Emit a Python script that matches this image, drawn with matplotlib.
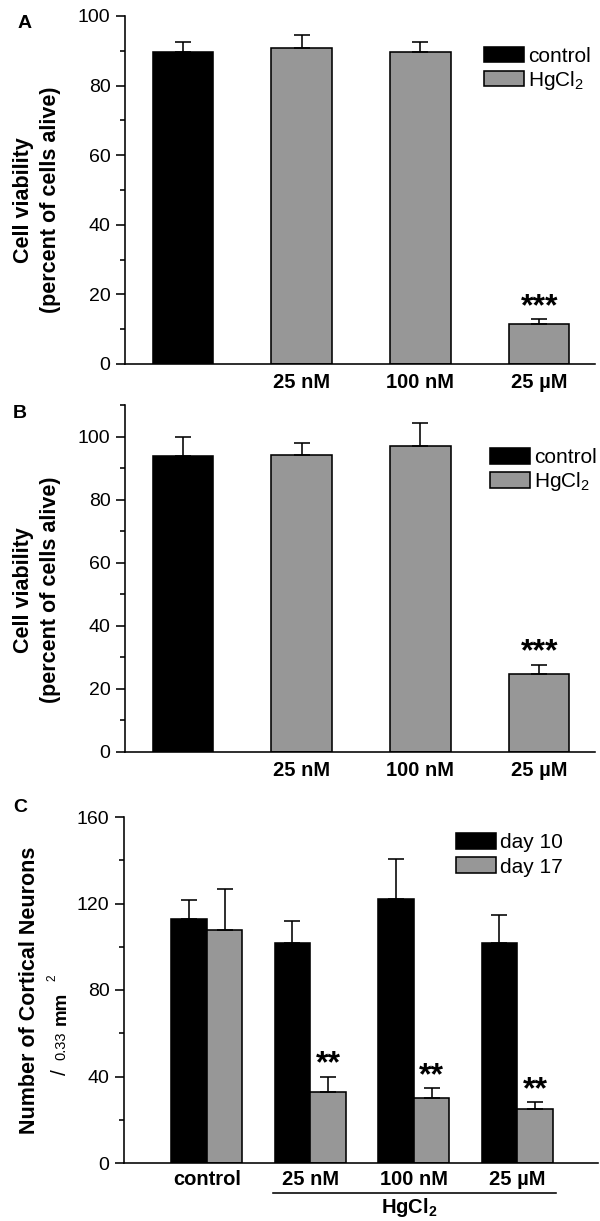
import matplotlib
matplotlib.use("Agg")
import matplotlib.pyplot as plt
import matplotlib.transforms as mtransforms
from matplotlib.patches import Patch
from matplotlib.ticker import MultipleLocator
import numpy as np

plt.rcParams['font.family'] = ['Liberation Sans', 'DejaVu Sans']
plt.rcParams['mathtext.default'] = 'regular'

# ---------------- data ----------------
conc_labels = ['25 nM', '100 nM', '25 µM']
groups_AB = ['control'] + conc_labels
tick_labels_AB = [''] + conc_labels

A_vals = [89.7, 90.7, 89.6, 11.5]
A_err = [2.8, 3.8, 3.0, 1.4]
A_stars = ['', '', '', '***']

B_vals = [93.9, 94.1, 96.9, 24.7]
B_err = [5.8, 3.9, 7.3, 2.9]
B_stars = ['', '', '', '***']

groups_C = ['control'] + conc_labels
C_day10 = [112.8, 101.9, 122.2, 101.6]
C_day10_err = [8.7, 10.0, 18.5, 13.1]
C_day17 = [107.9, 33.0, 29.9, 24.8]
C_day17_err = [18.7, 6.9, 4.6, 3.3]
C_stars = ['', '**', '**', '**']

legend_AB = ['control', 'HgCl$_2$']
legend_C = ['day 10', 'day 17']

GRAY = '#979797'
W, H = 600, 1221
TICK_FS = 14
XLAB_FS = 14.5
LEG_FS = 15

fig = plt.figure(figsize=(W / 100, H / 100), dpi=100)


def ax_px(left, top, right, bottom):
    return fig.add_axes([left / W, 1 - bottom / H, (right - left) / W, (bottom - top) / H])


def style_axes(ax, ymax, major, minor):
    ax.set_ylim(0, ymax)
    ax.yaxis.set_major_locator(MultipleLocator(major))
    ax.yaxis.set_minor_locator(MultipleLocator(minor))
    for s in ['top', 'right']:
        ax.spines[s].set_visible(False)
    for s in ['left', 'bottom']:
        ax.spines[s].set_linewidth(1.15)
    ax.tick_params(axis='y', which='major', length=6.5, width=1.15, labelsize=TICK_FS, pad=4)
    ax.tick_params(axis='y', which='minor', length=3.6, width=1.15)
    ax.tick_params(axis='x', length=0, pad=6.5)
    ax.patch.set_alpha(0)


def viability_panel(ax, vals, errs, stars, ymax):
    x = np.arange(1, len(vals) + 1)
    colors = ['black'] + [GRAY] * (len(vals) - 1)
    ax.bar(x, vals, width=0.51, color=colors, edgecolor='black', linewidth=1.15, zorder=2)
    ax.errorbar(x, vals, yerr=[np.zeros(len(vals)), errs], fmt='none', ecolor='black',
                elinewidth=1.15, capsize=5.5, capthick=1.15, zorder=3)
    for xi, v, e, s in zip(x, vals, errs, stars):
        if s:
            ax.annotate(s, (xi, v + e), xytext=(0, -2), textcoords='offset points',
                        ha='center', va='bottom', fontsize=23, fontweight='bold')
    ax.set_xlim(0.513, 4.47)
    ax.set_xticks(x, tick_labels_AB, fontsize=XLAB_FS, fontweight='bold')
    style_axes(ax, ymax, 20, 10)


def legend(ax, colors, labels, anchor, spacing):
    handles = [Patch(facecolor=c, edgecolor='black', linewidth=1.15) for c in colors]
    ax.legend(handles, labels, loc='upper left', bbox_to_anchor=anchor, frameon=False,
              fontsize=LEG_FS, handlelength=1.92, handleheight=0.77, handletextpad=0.18,
              labelspacing=spacing, borderpad=0, borderaxespad=0)


def ylabel2(xc, yc, text):
    fig.text(xc / W, 1 - yc / H, text, rotation=90, ha='center', va='center',
             fontsize=15.5, fontweight='bold', linespacing=1.35)


# ---------------- Panel A ----------------
axA = ax_px(125, 16, 595, 364)
viability_panel(axA, A_vals, A_err, A_stars, 100)
legend(axA, ['black', GRAY], legend_AB, (0.764, 0.912), 0.15)
ylabel2(37, 200, 'Cell viability\n(percent of cells alive)')
fig.text(25 / W, 1 - 23 / H, 'A', fontsize=14, fontweight='bold', ha='center', va='center')

# ---------------- Panel B ----------------
axB = ax_px(125, 405, 595, 752)
viability_panel(axB, B_vals, B_err, B_stars, 110)
legend(axB, ['black', GRAY], legend_AB, (0.777, 0.876), 0.15)
ylabel2(37, 590, 'Cell viability\n(percent of cells alive)')
fig.text(20 / W, 1 - 414 / H, 'B', fontsize=14, fontweight='bold', ha='center', va='center')

# ---------------- Panel C ----------------
axC = ax_px(124, 817, 598, 1163)
xc = np.arange(1, len(groups_C) + 1)
bw = 0.345
axC.bar(xc - bw / 2, C_day10, width=bw, color='black', edgecolor='black', linewidth=1.15, zorder=2)
axC.bar(xc + bw / 2, C_day17, width=bw, color=GRAY, edgecolor='black', linewidth=1.15, zorder=2)
axC.errorbar(xc - bw / 2, C_day10, yerr=[np.zeros(4), C_day10_err], fmt='none', ecolor='black',
             elinewidth=1.15, capsize=5.5, capthick=1.15, zorder=3)
axC.errorbar(xc + bw / 2, C_day17, yerr=[np.zeros(4), C_day17_err], fmt='none', ecolor='black',
             elinewidth=1.15, capsize=5.5, capthick=1.15, zorder=3)
for xi, v, e, s in zip(xc + bw / 2, C_day17, C_day17_err, C_stars):
    if s:
        axC.annotate(s, (xi, v + e), xytext=(0, -2), textcoords='offset points',
                     ha='center', va='bottom', fontsize=23, fontweight='bold')
axC.set_xlim(0.20, 4.78)
axC.set_xticks(xc, groups_C, fontsize=XLAB_FS, fontweight='bold')
style_axes(axC, 160, 40, 20)
axC.tick_params(axis='x', pad=5)
legend(axC, ['black', GRAY], legend_C, (0.70, 0.953), 0.25)

# HgCl2 bracket
trans = mtransforms.blended_transform_factory(axC.transData, axC.transAxes)
axC.plot([xc[1] - bw - 0.02, xc[-1] + bw + 0.03], [-0.086, -0.086], transform=trans,
         color='black', lw=1.15, clip_on=False)
axC.text(xc[2] - 0.04, -0.13, 'HgCl$_2$', transform=trans, ha='center', va='center',
         fontsize=XLAB_FS, fontweight='bold')

# y label of C
fig.text(30 / W, 1 - 990 / H, 'Number of Cortical Neurons', rotation=90, ha='center',
         va='center', fontsize=15.5, fontweight='bold')
fig.text(61 / W, 1 - 1072 / H, '/', rotation=90, ha='center', va='center', fontsize=15)
fig.text(61 / W, 1 - 1046 / H, '0.33', rotation=90, ha='center', va='center', fontsize=10.5)
fig.text(61 / W, 1 - 1008 / H, 'mm', rotation=90, ha='center', va='center', fontsize=13.5,
         fontweight='bold')
fig.text(52 / W, 1 - 978 / H, '2', rotation=90, ha='center', va='center', fontsize=8.5)
fig.text(20 / W, 1 - 807 / H, 'C', fontsize=14, fontweight='bold', ha='center', va='center')

fig.savefig('out.png', dpi=100)
